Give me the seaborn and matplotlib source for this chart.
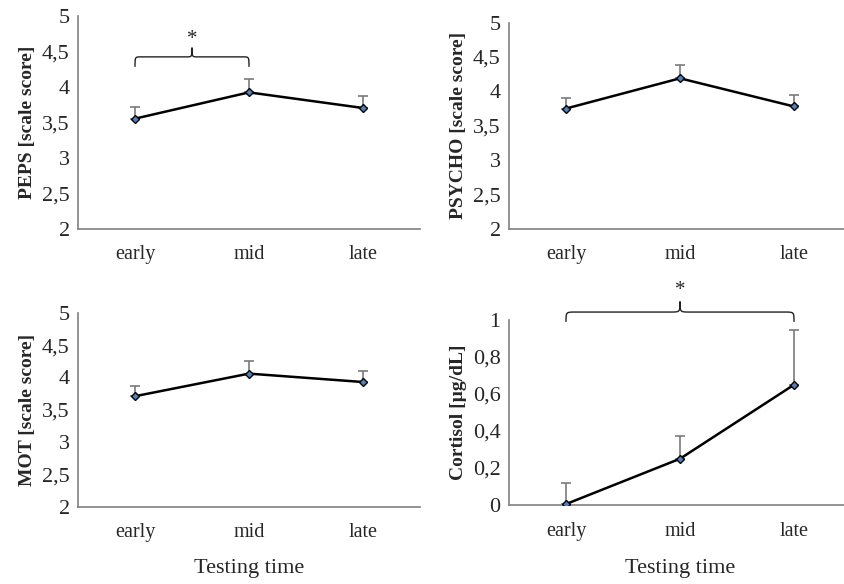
import numpy as np
import pandas as pd
import matplotlib
matplotlib.use("Agg")
import matplotlib.pyplot as plt
from matplotlib.path import Path
from matplotlib.patches import PathPatch
from matplotlib.ticker import FuncFormatter, FixedLocator
import seaborn as sns

sns.set_style("white")
plt.rcParams['font.family'] = ['Liberation Serif', 'DejaVu Serif']

times = ["early", "mid", "late"]
peps_mean = [3.55, 3.92, 3.70]
peps_err = [0.16, 0.19, 0.17]
psycho_mean = [3.75, 4.19, 3.78]
psycho_err = [0.16, 0.19, 0.17]
mot_mean = [3.71, 4.06, 3.93]
mot_err = [0.16, 0.20, 0.17]
cort_mean = [0.005, 0.25, 0.65]
cort_err = [0.115, 0.125, 0.295]

panels = [
    dict(name="PEPS [scale score]", mean=peps_mean, err=peps_err, ylim=(2, 5),
         ticks=[2, 2.5, 3, 3.5, 4, 4.5, 5], pos=(78, 15.7, 228.7),
         brace=(0, 1, 4.42, 4.28, 4.55, 4.66)),
    dict(name="PSYCHO [scale score]", mean=psycho_mean, err=psycho_err, ylim=(2, 5),
         ticks=[2, 2.5, 3, 3.5, 4, 4.5, 5], pos=(509, 22.7, 228.7), brace=None),
    dict(name="MOT [scale score]", mean=mot_mean, err=mot_err, ylim=(2, 5),
         ticks=[2, 2.5, 3, 3.5, 4, 4.5, 5], pos=(78, 313, 506.5), brace=None),
    dict(name="Cortisol [µg/dL]", mean=cort_mean, err=cort_err, ylim=(0, 1),
         ticks=[0, 0.2, 0.4, 0.6, 0.8, 1], pos=(509, 320, 505),
         brace=(0, 2, 1.043, 0.99, 1.10, 1.16)),
]

W, H = 845, 584
fig = plt.figure(figsize=(W / 100, H / 100), dpi=100)

def fmt(v, _):
    s = ("%g" % round(v, 2))
    return s.replace(".", ",")

axis_col = "#808080"

for p in panels:
    left, top, bottom = p["pos"]
    width = 342
    ax = fig.add_axes([left / W, 1 - bottom / H, width / W, (bottom - top) / H])
    x = np.arange(len(times))
    df = pd.DataFrame({"x": x, "y": p["mean"]})
    ax.errorbar(x, p["mean"], yerr=[np.zeros(3), p["err"]], fmt="none",
                ecolor="#7a7a7a", elinewidth=1.2, capsize=3.5, capthick=1.2, zorder=2)
    sns.lineplot(data=df, x="x", y="y", ax=ax, color="black", linewidth=1.8,
                 marker="D", markersize=4.5, markerfacecolor="#4f81bd",
                 markeredgecolor="black", markeredgewidth=1.0, zorder=3)
    ax.set_xlim(-0.5, 2.5)
    ax.set_ylim(*p["ylim"])
    ax.yaxis.set_major_locator(FixedLocator(p["ticks"]))
    ax.yaxis.set_major_formatter(FuncFormatter(fmt))
    ax.xaxis.set_major_locator(FixedLocator([-0.5, 0.5, 1.5, 2.5]))
    ax.xaxis.set_minor_locator(FixedLocator([0, 1, 2]))
    ax.set_xticklabels([])
    ax.set_xticklabels(times, minor=True)
    ax.tick_params(axis="x", which="major", length=5, width=1, color=axis_col, direction="out")
    ax.tick_params(axis="x", which="minor", length=0, labelsize=14.5, pad=12)
    ax.tick_params(axis="y", length=4, width=1, color=axis_col, direction="out",
                   labelsize=16, pad=2)
    for s in ["top", "right"]:
        ax.spines[s].set_visible(False)
    for s in ["left", "bottom"]:
        ax.spines[s].set_color(axis_col)
        ax.spines[s].set_linewidth(1.2)
    ax.set_xlabel("")
    ax.set_ylabel(p["name"], fontsize=14, fontweight="bold", labelpad=4)
    if p["brace"] is not None:
        x0, x1, yb, yend, ytip, ystar = p["brace"]
        xm = (x0 + x1) / 2
        r = 0.03 * (x1 - x0) + 0.02
        verts = [
            (x0, yend), (x0, yb), (x0, yb), (x0 + r, yb),
            (xm - r, yb), (xm, yb), (xm, yb), (xm, ytip),
            (xm, yb), (xm, yb), (xm + r, yb),
            (x1 - r, yb), (x1, yb), (x1, yb), (x1, yend),
        ]
        codes = [Path.MOVETO, Path.CURVE4, Path.CURVE4, Path.CURVE4,
                 Path.LINETO, Path.CURVE4, Path.CURVE4, Path.CURVE4,
                 Path.CURVE4, Path.CURVE4, Path.CURVE4,
                 Path.LINETO, Path.CURVE4, Path.CURVE4, Path.CURVE4]
        patch = PathPatch(Path(verts, codes), fill=False, edgecolor="#222222",
                          linewidth=1.0, clip_on=False)
        ax.add_patch(patch)
        ax.text(xm, ystar, "*", ha="center", va="center", fontsize=15,
                clip_on=False)

fig.text(249 / W, 1 - 568 / H, "Testing time", ha="center", va="center", fontsize=16)
fig.text(680 / W, 1 - 568 / H, "Testing time", ha="center", va="center", fontsize=16)

fig.savefig("out.png", dpi=100)
